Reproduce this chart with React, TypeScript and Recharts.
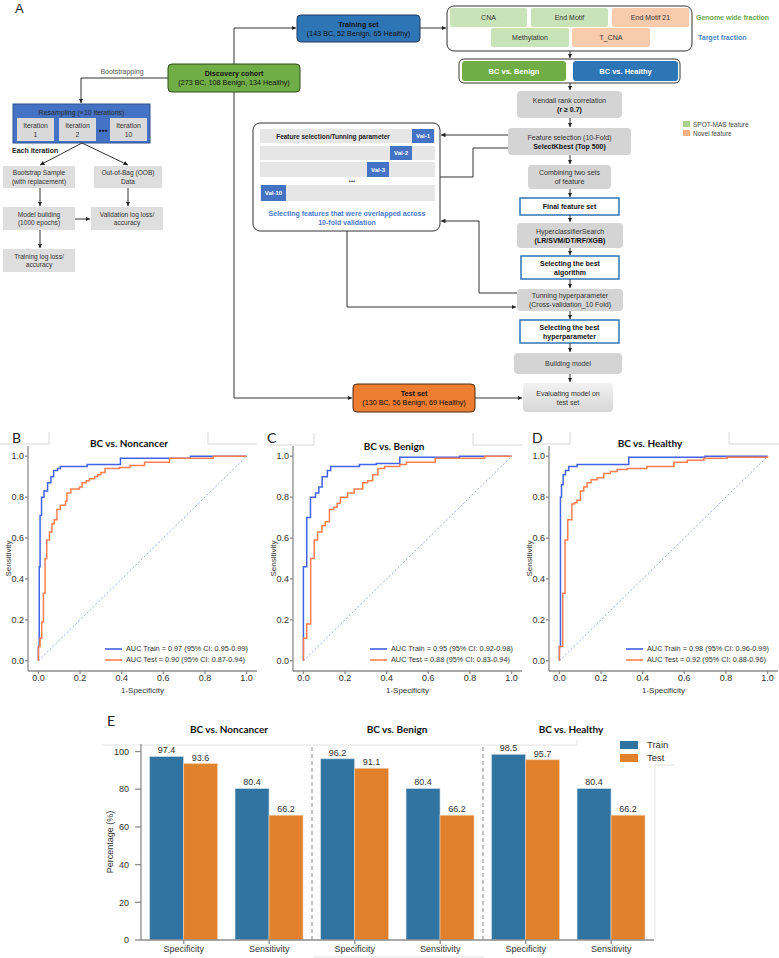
import React from 'react';
import { LineChart, Line, XAxis, YAxis, Legend, BarChart, Bar, LabelList, ReferenceLine } from 'recharts';

const FONT = '"Liberation Sans", Arial, Helvetica, sans-serif';
const TITLE_FONT = 'Lato, "Noto Sans", sans-serif';

// ---------- ROC data (panels B, C, D) ----------
const rocTitles = ['BC vs. Noncancer', 'BC vs. Benign', 'BC vs. Healthy'];
const rocPanelLabels = ['B', 'C', 'D'];
const aucTrainLabels = [
  'AUC Train = 0.97 (95% CI: 0.95-0.99)',
  'AUC Train = 0.95 (95% CI: 0.92-0.98)',
  'AUC Train = 0.98 (95% CI: 0.96-0.99)',
];
const aucTestLabels = [
  'AUC Test = 0.90 (95% CI: 0.87-0.94)',
  'AUC Test = 0.88 (95% CI: 0.83-0.94)',
  'AUC Test = 0.92 (95% CI: 0.88-0.96)',
];
const rocTicks = [0, 0.2, 0.4, 0.6, 0.8, 1];
const chanceLine: [number, number][] = [[0, 0], [1, 1]];

// [1-specificity, sensitivity] at each step of the curve
const noncancerTrain: [number, number][] = [
  [0, 0], [0, 0.07], [0.004, 0.46], [0.008, 0.71], [0.015, 0.8], [0.027, 0.83], [0.044, 0.87],
  [0.06, 0.9], [0.073, 0.93], [0.092, 0.94], [0.105, 0.95], [0.234, 0.96], [0.394, 0.99],
  [0.73, 1.0], [1, 1],
];
const noncancerTest: [number, number][] = [
  [0, 0], [0, 0.07], [0.008, 0.11], [0.016, 0.19], [0.024, 0.33], [0.032, 0.5], [0.04, 0.59],
  [0.053, 0.63], [0.065, 0.67], [0.076, 0.69], [0.089, 0.74], [0.105, 0.76], [0.13, 0.78],
  [0.137, 0.82], [0.156, 0.84], [0.197, 0.85], [0.21, 0.87], [0.23, 0.88], [0.245, 0.89],
  [0.27, 0.9], [0.285, 0.91], [0.3, 0.92], [0.32, 0.94], [0.39, 0.945], [0.44, 0.955],
  [0.51, 0.97], [0.63, 0.99], [0.84, 1.0], [1, 1],
];
const benignTrain: [number, number][] = [
  [0, 0], [0, 0.46], [0.016, 0.7], [0.034, 0.8], [0.058, 0.82], [0.074, 0.85], [0.09, 0.9],
  [0.115, 0.93], [0.131, 0.95], [0.269, 0.96], [0.35, 0.965], [0.463, 0.995], [0.75, 1.0], [1, 1],
];
const benignTest: [number, number][] = [
  [0, 0], [0, 0.11], [0.016, 0.18], [0.035, 0.5], [0.052, 0.59], [0.068, 0.63], [0.089, 0.66],
  [0.105, 0.68], [0.125, 0.74], [0.146, 0.75], [0.162, 0.77], [0.178, 0.8], [0.212, 0.82],
  [0.244, 0.84], [0.285, 0.87], [0.309, 0.88], [0.333, 0.91], [0.358, 0.94], [0.39, 0.95],
  [0.463, 0.96], [0.495, 0.97], [0.633, 0.99], [0.87, 1.0], [1, 1],
];
const healthyTrain: [number, number][] = [
  [0, 0], [0, 0.07], [0.005, 0.8], [0.01, 0.86], [0.018, 0.91], [0.029, 0.93], [0.045, 0.95],
  [0.085, 0.96], [0.333, 0.995], [0.7, 1.0], [1, 1],
];
const healthyTest: [number, number][] = [
  [0, 0], [0, 0.07], [0.016, 0.33], [0.027, 0.59], [0.04, 0.69], [0.06, 0.766], [0.072, 0.772],
  [0.084, 0.785], [0.101, 0.83], [0.117, 0.85], [0.133, 0.87], [0.152, 0.885], [0.181, 0.895],
  [0.213, 0.916], [0.245, 0.925], [0.277, 0.935], [0.325, 0.94], [0.42, 0.95], [0.55, 0.97],
  [0.614, 0.98], [0.694, 0.99], [0.806, 0.995], [1, 1.0],
];

// ---------- Bar chart data (panel E) ----------
const comparisonTitles = ['BC vs. Noncancer', 'BC vs. Benign', 'BC vs. Healthy'];
const metricLabels = ['Specificity', 'Sensitivity', 'Specificity', 'Sensitivity', 'Specificity', 'Sensitivity'];
const trainPct = [97.4, 80.4, 96.2, 80.4, 98.5, 80.4];
const testPct = [93.6, 66.2, 91.1, 66.2, 95.7, 66.2];
const pctTicks = [0, 20, 40, 60, 80, 100];
// the last category index of each comparison group that is followed by a separator
const groupEndIndex = [1, 3];

const TRAIN_LINE = '#4163e6';
const TEST_LINE = '#ff7f50';
const TRAIN_BAR = '#3274a1';
const TEST_BAR = '#e1812c';

const toPts = (a: [number, number][]) => a.map(([fpr, tpr]) => ({ fpr, tpr }));

type LegendItem = { label: string; color: string };
const RocLegend = ({ items }: { items: LegendItem[] }) => (
  <div style={{ fontFamily: FONT, fontSize: 7.3, color: '#333' }}>
    {items.map((it) => (
      <div key={it.label} style={{ display: 'flex', alignItems: 'center', height: 11 }}>
        <svg width={17} height={4} style={{ marginRight: 4 }}>
          <line x1={0} y1={2} x2={17} y2={2} stroke={it.color} strokeWidth={1.6} />
        </svg>
        <span style={{ whiteSpace: 'nowrap' }}>{it.label}</span>
      </div>
    ))}
  </div>
);

function Roc({ left, top, train, test, idx }: { left: number; top: number; train: [number, number][]; test: [number, number][]; idx: number }) {
  const axisStroke = '#8c8c8c';
  const items = [
    { label: aucTrainLabels[idx], color: TRAIN_LINE },
    { label: aucTestLabels[idx], color: TEST_LINE },
  ];
  return (
    <div style={{ position: 'absolute', left, top }}>
      <LineChart width={262} height={260} margin={{ top: 6, right: 5, bottom: 0, left: 0 }}>
        <XAxis
          dataKey="fpr"
          type="number"
          domain={[-0.05, 1.05]}
          ticks={rocTicks}
          allowDataOverflow
          tickFormatter={(v: number) => v.toFixed(1)}
          stroke={axisStroke}
          strokeWidth={1.3}
          tick={{ fontSize: 9, fill: '#333', fontFamily: FONT }}
          tickSize={3}
          tickMargin={1}
          height={29}
          label={{ value: '1-Specificity', position: 'insideBottom', offset: 7, fontSize: 8, fill: '#333', fontFamily: FONT }}
        />
        <YAxis
          dataKey="tpr"
          type="number"
          domain={[-0.05, 1.05]}
          ticks={rocTicks}
          allowDataOverflow
          tickFormatter={(v: number) => v.toFixed(1)}
          stroke={axisStroke}
          strokeWidth={1.3}
          tick={{ fontSize: 9, fill: '#333', fontFamily: FONT }}
          tickSize={3}
          tickMargin={1}
          width={28}
          label={{ value: 'Sensitivity', angle: -90, position: 'insideLeft', offset: 8, fontSize: 8, fill: '#333', fontFamily: FONT, style: { textAnchor: 'middle' } }}
        />
        <Line data={toPts(chanceLine)} dataKey="tpr" type="linear" stroke="#7896dc" strokeWidth={0.8} strokeDasharray="2 2" dot={false} activeDot={false} isAnimationActive={false} />
        <Line data={toPts(train)} dataKey="tpr" type="stepAfter" stroke={TRAIN_LINE} strokeWidth={1.5} dot={false} activeDot={false} isAnimationActive={false} />
        <Line data={toPts(test)} dataKey="tpr" type="stepAfter" stroke={TEST_LINE} strokeWidth={1.5} dot={false} activeDot={false} isAnimationActive={false} />
        <Legend layout="vertical" align="center" verticalAlign="middle" wrapperStyle={{ left: 105, top: 203, width: 'auto' }} content={() => <RocLegend items={items} />} />
      </LineChart>
    </div>
  );
}

type Line_ = { t: string; b?: boolean; c?: string };
function FBox({ x, y, w, h, fill, stroke = 'none', sw = 1, rx = 3, lines, fs = 7, lh = 9 }: { x: number; y: number; w: number; h: number; fill: string; stroke?: string; sw?: number; rx?: number; lines: Line_[]; fs?: number; lh?: number }) {
  const cy = y + h / 2;
  const n = lines.length;
  return (
    <g>
      <rect x={x} y={y} width={w} height={h} rx={rx} fill={fill} stroke={stroke} strokeWidth={sw} />
      {lines.map((l, i) => (
        <text key={i} x={x + w / 2} y={cy + (i - (n - 1) / 2) * lh} textAnchor="middle" dominantBaseline="central" fontSize={fs} fontWeight={l.b ? 'bold' : 'normal'} fill={l.c || '#333'}>
          {l.t}
        </text>
      ))}
    </g>
  );
}

function Conn({ pts, arrow = true }: { pts: number[][]; arrow?: boolean }) {
  return <polyline points={pts.map((p) => p.join(',')).join(' ')} fill="none" stroke="#333" strokeWidth={1} markerEnd={arrow ? 'url(#ah)' : undefined} />;
}

const GRAY = '#d4d4d4';
const LGRAY = '#dedede';

function Flow() {
  const cx = 570;
  const down = (y1: number, y2: number) => <Conn pts={[[cx, y1], [cx, y2]]} />;
  return (
    <g fontFamily={FONT}>
      <defs>
        <marker id="ah" viewBox="0 0 6 6" refX="6" refY="3" markerWidth="4.5" markerHeight="4.5" orient="auto" markerUnits="userSpaceOnUse">
          <path d="M0,0 L6,3 L0,6 z" fill="#222" />
        </marker>
        <linearGradient id="evalg" x1="0" y1="0" x2="0" y2="1">
          <stop offset="0" stopColor="#f2f2f2" />
          <stop offset="1" stopColor="#d6d6d6" />
        </linearGradient>
      </defs>
      <text x={15} y={8} fontSize={13} dominantBaseline="central" fill="#222">A</text>

      {/* cohort boxes */}
      <FBox x={297} y={15} w={123} h={27} rx={4} fill="#2e75b6" stroke="#1f3a5f" lines={[{ t: 'Training set', b: true, c: '#111' }, { t: '(143 BC, 52 Benign, 65 Healthy)', c: '#111' }]} fs={7.2} />
      <FBox x={168} y={64} w={132} h={28} rx={4} fill="#70ad47" stroke="#2d4a1b" lines={[{ t: 'Discovery cohort', b: true, c: '#111' }, { t: '(273 BC, 108 Benign, 134 Healthy)', c: '#111' }]} fs={7.2} />
      <FBox x={353} y={384} w={122} h={28} rx={4} fill="#ed7d31" stroke="#4a2a10" lines={[{ t: 'Test set', b: true, c: '#111' }, { t: '(130 BC, 56 Benign, 69 Healthy)', c: '#111' }]} fs={7.2} />
      <Conn pts={[[234, 64], [234, 28], [296, 28]]} />
      <Conn pts={[[234, 92], [234, 398], [352, 398]]} />
      <Conn pts={[[420, 28], [446, 28]]} />
      <Conn pts={[[168, 78], [81, 78], [81, 103]]} />
      <text x={122} y={71} fontSize={7} textAnchor="middle" dominantBaseline="central" fill="#555">Bootstrapping</text>

      {/* resampling */}
      <rect x={13} y={104} width={137} height={39} fill="#4472c4" stroke="#2f528f" />
      <text x={81.5} y={112.5} fontSize={7} textAnchor="middle" dominantBaseline="central" fill="#2a2a2a">Resampling (×10 iterations)</text>
      {[[17, '1'], [59, '2'], [110, '10']].map(([x, n]) => (
        <FBox key={String(n)} x={x as number} y={118} w={37} h={23} rx={0} fill="#d9d9d9" lines={[{ t: 'Iteration' }, { t: String(n) }]} fs={6.8} lh={9} />
      ))}
      <text x={103} y={130} fontSize={5} textAnchor="middle" dominantBaseline="central" fill="#111">●●●</text>
      <text x={12} y={150} fontSize={7} fontWeight="bold" dominantBaseline="central" fill="#222">Each iteration</text>
      <Conn pts={[[82, 143], [40, 165]]} />
      <Conn pts={[[82, 143], [128, 165]]} />
      <FBox x={3} y={166} w={72} h={22} rx={0} fill={LGRAY} lines={[{ t: 'Bootstrap Sample' }, { t: '(with replacement)' }]} fs={6.6} lh={8.5} />
      <FBox x={94} y={166} w={68} h={22} rx={0} fill={LGRAY} lines={[{ t: 'Out-of-Bag (OOB)' }, { t: 'Data' }]} fs={6.6} lh={8.5} />
      <FBox x={3} y={207} w={72} h={23} rx={0} fill={LGRAY} lines={[{ t: 'Model building' }, { t: '(1000 epochs)' }]} fs={6.6} lh={8.5} />
      <FBox x={91} y={207} w={72} h={23} rx={0} fill={LGRAY} lines={[{ t: 'Validation log loss/' }, { t: 'accuracy' }]} fs={6.6} lh={8.5} />
      <FBox x={3} y={249} w={72} h={23} rx={0} fill={LGRAY} lines={[{ t: 'Training log loss/' }, { t: 'accuracy' }]} fs={6.6} lh={8.5} />
      <Conn pts={[[40, 188], [40, 206]]} />
      <Conn pts={[[128, 188], [128, 206]]} />
      <Conn pts={[[75, 219], [90, 219]]} />
      <Conn pts={[[40, 230], [40, 248]]} />

      {/* feature selection panel */}
      <rect x={253} y={123} width={187} height={108} rx={7} fill="#fff" stroke="#333" />
      <rect x={260} y={129} width={175} height={14} fill="#e7e6e6" />
      <rect x={260} y={146} width={175} height={14} fill="#e7e6e6" />
      <rect x={260} y={162} width={175} height={15} fill="#e7e6e6" />
      <rect x={260} y={185} width={175} height={16} fill="#e7e6e6" />
      <text x={333} y={136} fontSize={6.5} fontWeight="bold" textAnchor="middle" dominantBaseline="central" fill="#222">Feature selection/Tunning parameter</text>
      <FBox x={412} y={129} w={22} h={14} rx={0} fill="#4472c4" lines={[{ t: 'Val-1', b: true, c: '#fff' }]} fs={6} />
      <FBox x={390} y={146} w={22} h={14} rx={0} fill="#4472c4" lines={[{ t: 'Val-2', b: true, c: '#fff' }]} fs={6} />
      <FBox x={367} y={162} w={22} h={15} rx={0} fill="#4472c4" lines={[{ t: 'Val-3', b: true, c: '#fff' }]} fs={6} />
      <FBox x={261} y={185} w={25} h={16} rx={0} fill="#4472c4" lines={[{ t: 'Val-10', b: true, c: '#fff' }]} fs={6} />
      <text x={352} y={181} fontSize={6} textAnchor="middle" dominantBaseline="central" fill="#333">•••</text>
      <text x={347} y={213} fontSize={7} fontWeight="bold" textAnchor="middle" dominantBaseline="central" fill="#4a7bd0">Selecting features that were overlapped across</text>
      <text x={347} y={222} fontSize={7} fontWeight="bold" textAnchor="middle" dominantBaseline="central" fill="#4a7bd0">10-fold validation</text>
      <Conn pts={[[508, 135], [441, 135]]} />
      <Conn pts={[[508, 148], [473, 148], [473, 177], [440, 177]]} arrow={false} />
      <Conn pts={[[517, 293], [479, 293], [479, 221], [441, 221]]} />
      <Conn pts={[[347, 231], [347, 307], [516, 307]]} />

      {/* features */}
      <rect x={447} y={6} width={245} height={45} rx={7} fill="#fff" stroke="#333" />
      <FBox x={450} y={8} w={77} h={19} rx={2} fill="#c9e3b8" lines={[{ t: 'CNA' }]} />
      <FBox x={531} y={8} w={77} h={19} rx={2} fill="#c9e3b8" lines={[{ t: 'End Motif' }]} />
      <FBox x={612} y={8} w={77} h={19} rx={2} fill="#f8cbad" lines={[{ t: 'End Motif 21' }]} />
      <FBox x={491} y={28} w={78} h={19} rx={2} fill="#c9e3b8" lines={[{ t: 'Methylation' }]} />
      <FBox x={572} y={28} w={78} h={19} rx={2} fill="#f8cbad" lines={[{ t: 'T_CNA' }]} />
      <text x={696} y={17} fontSize={7} fontWeight="bold" dominantBaseline="central" fill="#6aa84f">Genome wide fraction</text>
      <text x={698} y={37} fontSize={7} fontWeight="bold" dominantBaseline="central" fill="#4a86c8">Target fraction</text>
      {down(51, 58)}
      <rect x={459} y={59} width={221} height={24} rx={5} fill="#fff" stroke="#333" />
      <FBox x={462} y={61} w={104} h={20} rx={3} fill="#70ad47" lines={[{ t: 'BC vs. Benign', b: true, c: '#fff' }]} fs={7.5} />
      <FBox x={573} y={61} w={105} h={20} rx={3} fill="#2e75b6" lines={[{ t: 'BC vs. Healthy', b: true, c: '#fff' }]} fs={7.5} />
      {down(83, 90)}
      <FBox x={517} y={91} w={105} h={27} rx={4} fill={GRAY} lines={[{ t: 'Kendall rank correlation' }, { t: '(r ≥ 0.7)', b: true, c: '#111' }]} />
      {down(118, 127)}
      <FBox x={508} y={128} w={123} h={27} rx={4} fill={GRAY} lines={[{ t: 'Feature selection (10-Fold)' }, { t: 'SelectKbest (Top 500)', b: true, c: '#111' }]} />
      {down(155, 164)}
      <FBox x={528} y={165} w={83} h={24} rx={4} fill={GRAY} lines={[{ t: 'Combining two sets' }, { t: 'of feature' }]} />
      {down(189, 197)}
      <FBox x={520} y={198} w={99} h={17} rx={0} fill="#fff" stroke="#2e75b6" sw={1.5} lines={[{ t: 'Final feature set', b: true, c: '#111' }]} />
      {down(215, 222)}
      <FBox x={517} y={223} w={106} h={25} rx={4} fill={GRAY} lines={[{ t: 'HyperclassifierSearch' }, { t: '(LR/SVM/DT/RF/XGB)', b: true, c: '#111' }]} />
      {down(248, 255)}
      <FBox x={521} y={256} w={98} h={23} rx={0} fill="#fff" stroke="#2e75b6" sw={1.5} lines={[{ t: 'Selecting the best', b: true, c: '#111' }, { t: 'algorithm', b: true, c: '#111' }]} />
      {down(279, 288)}
      <FBox x={517} y={289} w={106} h={22} rx={4} fill={GRAY} lines={[{ t: 'Tunning hyperparameter' }, { t: '(Cross-validation_10 Fold)' }]} />
      {down(311, 319)}
      <FBox x={520} y={320} w={99} h={23} rx={0} fill="#fff" stroke="#2e75b6" sw={1.5} lines={[{ t: 'Selecting the best', b: true, c: '#111' }, { t: 'hyperparameter', b: true, c: '#111' }]} />
      {down(343, 352)}
      <FBox x={514} y={353} w={108} h={21} rx={4} fill={GRAY} lines={[{ t: 'Building model' }]} />
      {down(374, 382)}
      <FBox x={523} y={383} w={90} h={29} rx={4} fill="url(#evalg)" lines={[{ t: 'Evaluating model on' }, { t: 'test set' }]} />
      <Conn pts={[[475, 398], [522, 398]]} />
      <rect x={683} y={121} width={7} height={6} fill="#a9d18e" />
      <text x={693} y={124} fontSize={6.5} dominantBaseline="central" fill="#444">SPOT-MAS feature</text>
      <rect x={683} y={130} width={7} height={6} fill="#f4b183" />
      <text x={693} y={133} fontSize={6.5} dominantBaseline="central" fill="#444">Novel feature</text>
    </g>
  );
}

function Decor() {
  const frame = '#d8d8d8';
  const rocLabelX = [12, 267, 532];
  const rocTitleX = [129, 394, 650];
  const rocTitleY = [443, 446, 443];
  const titleX = [229, 397, 571];
  return (
    <g>
      {/* ROC panel frames remnants */}
      <polyline points="0,444 49,444 49,432" fill="none" stroke={frame} />
      <polyline points="208,432 208,444 257,444" fill="none" stroke={frame} />
      <polyline points="267,445 314,445 314,433" fill="none" stroke={frame} />
      <polyline points="473,433 473,445 522,445" fill="none" stroke={frame} />
      <polyline points="532,444 570,444 570,432" fill="none" stroke={frame} />
      <polyline points="729,432 729,444 779,444" fill="none" stroke={frame} />
      {rocPanelLabels.map((l, i) => (
        <text key={l} x={rocLabelX[i]} y={437} fontSize={14} fontFamily={TITLE_FONT} dominantBaseline="central" fill="#222">{l}</text>
      ))}
      {rocTitles.map((t, i) => (
        <text key={t} x={rocTitleX[i]} y={rocTitleY[i]} fontSize={10} fontWeight="bold" fontFamily={TITLE_FONT} textAnchor="middle" dominantBaseline="central" fill="#111">{t}</text>
      ))}
      {/* panel E */}
      <text x={107} y={720} fontSize={14} fontFamily={TITLE_FONT} dominantBaseline="central" fill="#222">E</text>
      {comparisonTitles.map((t, i) => (
        <text key={t} x={titleX[i]} y={729} fontSize={10} fontWeight="bold" fontFamily={TITLE_FONT} textAnchor="middle" dominantBaseline="central" fill="#111">{t}</text>
      ))}
      <polyline points="102,745 577,745 577,740" fill="none" stroke="#e4e4e4" />
      <polyline points="675,765 655,765 655,940" fill="none" stroke="#e4e4e4" />
      <line x1={314} y1={957} x2={484} y2={957} stroke="#e4e4e4" />
    </g>
  );
}

const barData = metricLabels.map((m, i) => ({ key: `${m}|${i}`, metric: m, train: trainPct[i], test: testPct[i] }));

const BarLegend = () => (
  <div style={{ fontFamily: FONT, fontSize: 9.5, color: '#333' }}>
    {[
      { label: 'Train', color: TRAIN_BAR },
      { label: 'Test', color: TEST_BAR },
    ].map((it) => (
      <div key={it.label} style={{ display: 'flex', alignItems: 'center', height: 13 }}>
        <div style={{ width: 18, height: 8, background: it.color, marginRight: 9 }} />
        <span>{it.label}</span>
      </div>
    ))}
  </div>
);

function Bars() {
  const fmt = (v: number) => Number(v).toFixed(1);
  return (
    <div style={{ position: 'absolute', left: 0, top: 700 }}>
      <BarChart width={660} height={258} data={barData} margin={{ top: 44, right: 6, bottom: 0, left: 101 }} barCategoryGap="10%" barGap={0}>
        <XAxis
          dataKey="key"
          interval={0}
          height={18}
          tickSize={4}
          tickMargin={2}
          stroke="#8c8c8c"
          strokeWidth={1.3}
          tickFormatter={(v: string) => String(v).split('|')[0]}
          tick={{ fontSize: 9, fill: '#333', fontFamily: FONT }}
        />
        <YAxis
          type="number"
          domain={[0, 104]}
          ticks={pctTicks}
          allowDataOverflow
          width={40}
          tickSize={6}
          tickMargin={6}
          stroke="#8c8c8c"
          strokeWidth={1.3}
          tick={{ fontSize: 9, fill: '#333', fontFamily: FONT }}
          label={{ value: 'Percentage (%)', angle: -90, position: 'insideLeft', offset: 9, fontSize: 9, fill: '#333', fontFamily: FONT, style: { textAnchor: 'middle' } }}
        />
        {groupEndIndex.map((i) => (
          <ReferenceLine key={i} x={barData[i].key} position="end" stroke="#888" strokeDasharray="4 3" ifOverflow="visible" />
        ))}
        <Bar dataKey="train" fill={TRAIN_BAR} stroke="#d5e4ef" strokeWidth={0.6} isAnimationActive={false}>
          <LabelList dataKey="train" position="top" offset={3} fontSize={9} fill="#333" fontFamily={FONT} formatter={fmt as any} />
        </Bar>
        <Bar dataKey="test" fill={TEST_BAR} stroke="#f4d5b8" strokeWidth={0.6} isAnimationActive={false}>
          <LabelList dataKey="test" position="top" offset={3} fontSize={9} fill="#333" fontFamily={FONT} formatter={fmt as any} />
        </Bar>
        <Legend layout="vertical" align="center" verticalAlign="middle" wrapperStyle={{ left: 620, top: 38, width: 'auto' }} content={() => <BarLegend />} />
      </BarChart>
    </div>
  );
}

export default function App() {
  return (
    <div style={{ position: 'absolute', left: 0, top: 0, width: 779, height: 958, overflow: 'hidden', background: '#fff', fontFamily: FONT }}>
      <svg width={779} height={958} style={{ position: 'absolute', left: 0, top: 0 }}>
        <Flow />
        <Decor />
      </svg>
      <Roc left={0} top={440} train={noncancerTrain} test={noncancerTest} idx={0} />
      <Roc left={265} top={440} train={benignTrain} test={benignTest} idx={1} />
      <Roc left={521} top={440} train={healthyTrain} test={healthyTest} idx={2} />
      <Bars />
    </div>
  );
}
